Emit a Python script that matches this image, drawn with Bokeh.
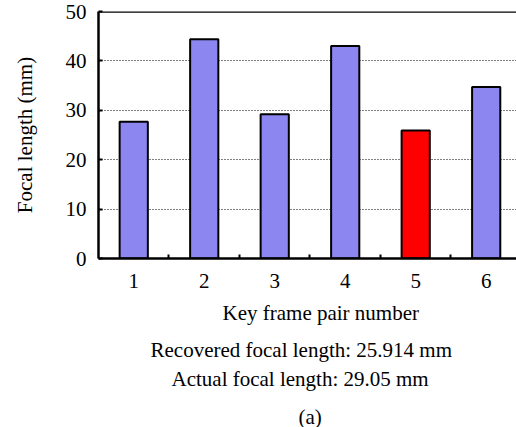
from bokeh.plotting import figure
from bokeh.models import FixedTicker, Span, ColumnDataSource, Title
from bokeh.embed import file_html
from bokeh.resources import INLINE

pairs = [1, 2, 3, 4, 5, 6]
focal = [27.7, 44.4, 29.2, 43.0, 25.914, 34.7]
colors = ["#8C86F0", "#8C86F0", "#8C86F0", "#8C86F0", "#FF0000", "#8C86F0"]
y_ticks = [0, 10, 20, 30, 40, 50]
x_title = "Key frame pair number"
y_title = "Focal length (mm)"
notes = ["Recovered focal length: 25.914 mm", "Actual focal length: 29.05 mm"]
caption = "(a)"

FONT = "Liberation Serif"
FS = "21px"

p = figure(output_backend="svg", toolbar_location=None,
           width=516, height=427, frame_width=418, frame_height=247,
           x_range=(0.5, 6.43), y_range=(0, 50),
           min_border_left=98, min_border_right=0, min_border_top=11,
           min_border_bottom=0)
p.outline_line_color = None
p.background_fill_color = "white"
p.border_fill_color = "white"

src = ColumnDataSource(dict(x=pairs, top=focal, color=colors))
p.vbar(x="x", top="top", width=0.4, bottom=0, source=src,
       fill_color="color", line_color="black", line_width=2)

# axes
p.xaxis.ticker = FixedTicker(ticks=pairs, minor_ticks=[1.5, 2.5, 3.5, 4.5, 5.5])
p.xaxis.major_tick_in = 0
p.xaxis.major_tick_out = 0
p.xaxis.minor_tick_in = 4
p.xaxis.minor_tick_out = 0
p.xaxis.minor_tick_line_color = "black"
p.xaxis.minor_tick_line_width = 2
p.xaxis.major_label_standoff = 15
p.yaxis.ticker = FixedTicker(ticks=y_ticks)
p.yaxis.major_tick_in = 4
p.yaxis.major_tick_out = 0
p.yaxis.minor_tick_line_color = None
p.yaxis.major_label_standoff = 12
p.yaxis.axis_label = y_title
p.yaxis.axis_label_standoff = 26
for ax in (p.xaxis, p.yaxis):
    ax.axis_line_width = 2.5
    ax.axis_line_color = "black"
    ax.major_tick_line_color = "black"
    ax.major_tick_line_width = 2
    ax.major_label_text_font = FONT
    ax.major_label_text_font_size = FS
    ax.major_label_text_color = "black"
    ax.axis_label_text_font = FONT
    ax.axis_label_text_font_size = FS
    ax.axis_label_text_font_style = "normal"
    ax.axis_label_text_color = "black"

p.xgrid.grid_line_color = None
p.ygrid.ticker = FixedTicker(ticks=[10, 20, 30, 40])
p.ygrid.grid_line_color = "black"
p.ygrid.grid_line_width = 1
p.ygrid.grid_line_dash = "1 2"

p.add_layout(Span(location=50, dimension="width", line_color="black", line_width=2.5))

# (text, left offset from frame, standoff, line height)
below_texts = [(x_title, 124, 16, 1.2), (notes[0], 52, 6, 0.85),
               (notes[1], 73, 0, 0.85), (caption, 200, 24, 1.2)]
for t, off, so, lh in below_texts:
    p.add_layout(Title(text=t, align="left", offset=off, standoff=so,
                       text_font=FONT, text_font_size=FS, text_font_style="normal",
                       text_line_height=lh, text_color="black"), "below")

open("out.html", "w").write(file_html(p, INLINE))
